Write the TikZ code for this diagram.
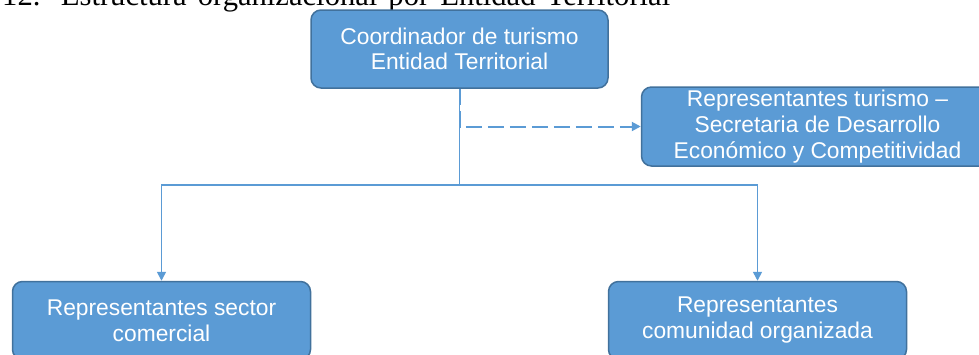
\documentclass[tikz,border=0pt]{standalone}
\usepackage{fontspec}
\setmainfont{Liberation Sans}
\newfontfamily\titlefont{Liberation Serif}
\usetikzlibrary{arrows.meta,positioning}
\definecolor{boxfill}{HTML}{5B9BD5}
\definecolor{boxline}{HTML}{41719C}
\begin{document}
\begin{tikzpicture}[x=1pt, y=-1pt, >={Triangle[length=9pt,width=9pt]},
    unit/.style={draw=boxline, line width=1.5pt, rounded corners=10pt, fill=boxfill, text=white, align=center, inner sep=0pt,
        minimum width=298pt, minimum height=78pt, font=\fontsize{22.8}{26}\selectfont},
    link/.style={draw=boxfill, line width=1.6pt},
    title/.style={anchor=base west, inner sep=0pt, font=\titlefont\fontsize{30.6}{34}\selectfont}]
    \useasboundingbox (0,0) rectangle (979,354);
    % Title (cut by the page edge)
    \node[title] (heading) at (2,5) {\makebox[668pt][s]{12. Estructura organizacional por Entidad Territorial}};
    % Nodes (organisation chart)
    \node[unit, minimum width=297pt, font=\fontsize{22.8}{25}\selectfont] (coord) at (459.5,49) {Coordinador de turismo\\Entidad Territorial};
    \node[unit, minimum width=352pt, minimum height=79pt, right=32pt of coord, yshift=-77.5pt] (secdes) {Representantes turismo --\\Secretaria de Desarrollo\\Económico y Competitividad};
    \node[unit, below=190pt of coord, xshift=-298pt, yshift=-2pt] (comercial) {Representantes sector\\comercial};
    \node[unit, below=190pt of coord, xshift=298pt, yshift=-2pt] (comunidad) {Representantes\\comunidad organizada};
    \coordinate[below=96pt of coord] (split);
    % Arrows
    \draw[link, ->, line width=2pt, dash pattern=on 16pt off 6pt] (coord.south) |- (secdes.west);
    \draw[link] (coord.south) -- (split);
    \draw[link, ->] (split) -| (comercial.north);
    \draw[link, ->] (split) -| (comunidad.north);
\end{tikzpicture}
\end{document}
